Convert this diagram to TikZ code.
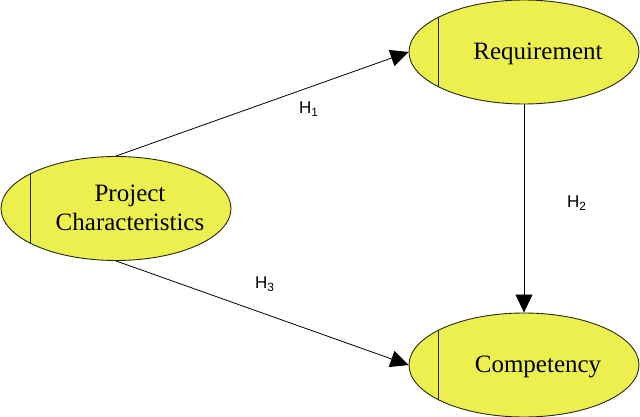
\documentclass[tikz,border=0pt]{standalone}
\usepackage{fontspec}
\setmainfont{Liberation Serif}
\newfontfamily\hfont{Liberation Sans}
\usetikzlibrary{shapes.geometric,arrows.meta}
\definecolor{ellfill}{RGB}{236,240,78}
\definecolor{ellline}{RGB}{40,40,20}
\tikzset{
  construct/.style={ellipse, draw=ellline, fill=ellfill, line width=0.9pt,
    minimum width=230pt, minimum height=104pt, inner sep=0pt,
    path picture={\draw[ellline,line width=0.9pt] (path picture bounding box.south west) ++(29pt,0) -- ++(0,110pt);}},
  ctext/.style={font=\fontsize{25}{29}\selectfont, align=center, inner sep=0pt},
  hyp/.style={font=\hfont\fontsize{17}{19}\selectfont, inner sep=0pt},
  link/.style={line width=0.8pt, draw=black, -{Triangle[length=18pt,width=17pt]}}
}
\begin{document}
\begin{tikzpicture}[x=1pt,y=-1pt]
\useasboundingbox (0,0) rectangle (640,417);
\node[construct] (req) at (524,52) {};
\node[construct] (proj) at (116,208.5) {};
\node[construct] (comp) at (524,365) {};
\node[ctext, anchor=base] (reqt) at (538,60) {Requirement};
\node[ctext] (projt) at (130,208) {Project\\Characteristics};
\node[ctext, anchor=base] (compt) at (538,372) {Competency};
\draw[link] (proj.north) -- (req.west);
\draw[link] (req.south) -- (comp.north);
\draw[link] (proj.south) -- (comp.west);
\node[hyp, anchor=base west] (h1) at (299,113.5) {H\textsubscript{1}};
\node[hyp, anchor=base west] (h2) at (567,207.5) {H\textsubscript{2}};
\node[hyp, anchor=base west] (h3) at (255,288.5) {H\textsubscript{3}};
\end{tikzpicture}
\end{document}
